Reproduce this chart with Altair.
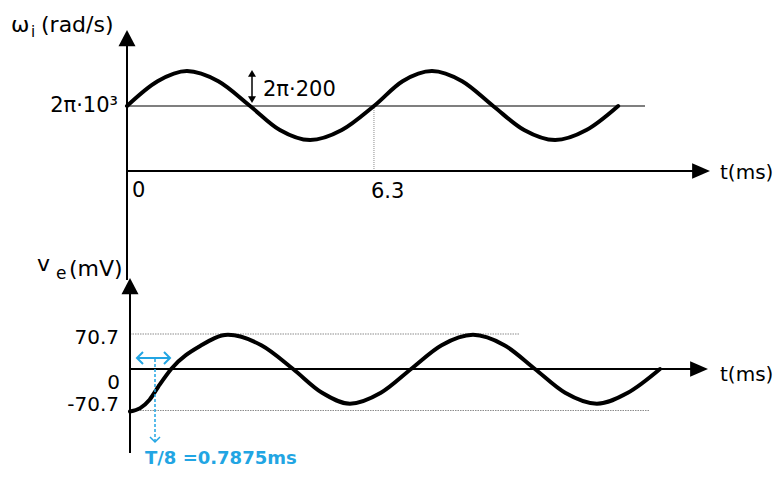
import altair as alt
import pandas as pd

# ---------------- data ----------------
# top panel: instantaneous angular frequency w_i (rad/s) vs t (ms)
t_top = [0, 0.78, 1.53, 2.33, 3.14, 3.9, 4.67, 5.48, 6.3, 7.03, 7.78, 8.55, 9.34, 10.13, 10.92, 11.72, 12.53]
w_top = [6283, 7172, 7540, 7172, 6283, 5420, 5060, 5420, 6283, 7172, 7540, 7172, 6283, 5420, 5060, 5420, 6283]

# bottom panel: v_e (mV) vs t (ms)
t_bot = [0, 0.26, 0.5, 0.72, 1.05, 1.8, 2.5, 3.35, 4.16, 4.9, 5.61, 6.4, 7.17, 7.95, 8.75, 9.55, 10.33, 11.1, 11.91, 12.7, 13.52]
v_bot = [-86, -79, -62, -36, 0, 47, 69, 48, 0, -48, -70, -48, 0, 48, 69, 48, 0, -48, -70, -48, 0]

w_center = 6283.19      # 2*pi*10^3 rad/s
w_dev = 1256.64         # 2*pi*200 rad/s
v_peak = 70.7           # mV
period_ms = 6.3

# ---------------- layout (page pixels -> scale domains) ----------------
FONT = "DejaVu Sans"
L, T, W, H = 8, 8, 767, 461
PXMS = 39.2
top_x0, top_c, top_a = 127, 106, 35
bot_x0, bot_z, bot_a = 130, 369, 35


def tx(px): return (px - top_x0) / PXMS
def ty(py): return w_center + (top_c - py) * w_dev / top_a
def bx(px): return (px - bot_x0) / PXMS
def by(py): return (bot_z - py) * v_peak / bot_a


XT = alt.Scale(domain=[tx(L), tx(L + W)], nice=False, zero=False)
YT = alt.Scale(domain=[ty(T + H), ty(T)], nice=False, zero=False)
XB = alt.Scale(domain=[bx(L), bx(L + W)], nice=False, zero=False)
YB = alt.Scale(domain=[by(T + H), by(T)], nice=False, zero=False)

w_axis = ty(171)


def enc(xs, ys, x2=False, y2=False):
    e = dict(x=alt.X("x:Q", scale=xs, axis=None), y=alt.Y("y:Q", scale=ys, axis=None))
    if x2:
        e["x2"] = alt.X2("x2:Q")
    if y2:
        e["y2"] = alt.Y2("y2:Q")
    return e


def rules(rows, xs, ys, **mk):
    df = pd.DataFrame(rows, columns=["x", "x2", "y", "y2"])
    return alt.Chart(df).mark_rule(**mk).encode(**enc(xs, ys, True, True))


def heads(rows, xs, ys, shape, size, **mk):
    df = pd.DataFrame(rows, columns=["x", "y"])
    return alt.Chart(df).mark_point(shape=shape, size=size, opacity=1, **mk).encode(**enc(xs, ys))


def texts(rows, xs, ys, **mk):
    df = pd.DataFrame(rows, columns=["x", "y", "label"])
    base = dict(font=FONT, color="black")
    base.update(mk)
    return alt.Chart(df).mark_text(**base).encode(text="label:N", **enc(xs, ys))


UP = "M0,0L-1,1.9L1,1.9Z"
RIGHT = "M0,0L-2.1,-0.9L-2.1,0.9Z"
SMALL_UP = "M0,0L-1,1.7L1,1.7Z"
SMALL_DOWN = "M0,0L-1,-1.7L1,-1.7Z"
OPEN_LEFT = "M1,-1L0,0L1,1"
OPEN_RIGHT = "M-1,-1L0,0L-1,1"
OPEN_DOWN = "M-1,-1L0,0L1,-1"
BLUE = "#22a5e3"

layers = []

# ---------- top panel ----------
layers.append(rules([[0, tx(645), w_center, w_center]], XT, YT, color="#7f7f7f", strokeWidth=2))
layers.append(rules([[period_ms, period_ms, w_center, w_axis]], XT, YT, color="#8c8c8c", strokeWidth=1, strokeDash=[1, 1]))
layers.append(rules([[0, tx(693), w_axis, w_axis], [0, 0, ty(280), ty(45)]], XT, YT, color="black", strokeWidth=2))
layers.append(alt.Chart(pd.DataFrame({"x": t_top, "y": w_top})).mark_line(
    color="black", strokeWidth=4, interpolate="monotone", strokeCap="round").encode(**enc(XT, YT)))
layers.append(heads([[0, ty(30)]], XT, YT, UP, 289, filled=True, color="black", strokeWidth=0))
layers.append(heads([[tx(710), w_axis]], XT, YT, RIGHT, 289, filled=True, color="black", strokeWidth=0))
# 2pi*200 double arrow
layers.append(rules([[tx(252), tx(252), ty(75), ty(98)]], XT, YT, color="black", strokeWidth=1.5))
layers.append(heads([[tx(252), ty(70)]], XT, YT, SMALL_UP, 64, filled=True, color="black", strokeWidth=0))
layers.append(heads([[tx(252), ty(103)]], XT, YT, SMALL_DOWN, 64, filled=True, color="black", strokeWidth=0))
# top texts
layers.append(texts([[tx(263), ty(96), "2π·200"]], XT, YT, align="left", baseline="alphabetic", fontSize=21))
layers.append(texts([[tx(118), ty(112), "2π·10³"]], XT, YT, align="right", baseline="alphabetic", fontSize=21))
layers.append(texts([[tx(132), ty(197), "0"], [tx(371), ty(198), "6.3"]],
                    XT, YT, align="left", baseline="alphabetic", fontSize=21))
layers.append(texts([[tx(720), ty(179), "t(ms)"]], XT, YT, align="left", baseline="alphabetic", fontSize=20))
layers.append(texts([[tx(11), ty(32), "ω"], [tx(41), ty(32), "(rad/s)"]],
                    XT, YT, align="left", baseline="alphabetic", fontSize=22))
layers.append(texts([[tx(31), ty(37), "i"]], XT, YT, align="left", baseline="alphabetic", fontSize=15))

# ---------- bottom panel ----------
layers.append(rules([[0, bx(520), v_peak, v_peak], [0, bx(650), by(410.5), by(410.5)]], XB, YB,
                    color="#8c8c8c", strokeWidth=1.2, strokeDash=[1.5, 1]))
layers.append(rules([[0, bx(691), 0, 0], [0, 0, by(453), by(292)]], XB, YB, color="black", strokeWidth=2))
layers.append(alt.Chart(pd.DataFrame({"x": t_bot, "y": v_bot})).mark_line(
    color="black", strokeWidth=4, interpolate="monotone", strokeCap="round").encode(**enc(XB, YB)))
layers.append(heads([[0, by(278)]], XB, YB, UP, 289, filled=True, color="black", strokeWidth=0))
layers.append(heads([[bx(708), 0]], XB, YB, RIGHT, 289, filled=True, color="black", strokeWidth=0))
# blue T/8 marker
layers.append(rules([[bx(137), bx(170), by(358), by(358)]], XB, YB, color=BLUE, strokeWidth=2))
layers.append(rules([[bx(155), bx(155), by(359), by(442)]], XB, YB, color=BLUE, strokeWidth=1.5, strokeDash=[3, 2]))
layers.append(heads([[bx(137), by(358)]], XB, YB, OPEN_LEFT, 144, filled=False, color=BLUE, strokeWidth=2))
layers.append(heads([[bx(170), by(358)]], XB, YB, OPEN_RIGHT, 144, filled=False, color=BLUE, strokeWidth=2))
layers.append(heads([[bx(155), by(442)]], XB, YB, OPEN_DOWN, 100, filled=False, color=BLUE, strokeWidth=1.5))
layers.append(texts([[bx(145), by(464), "T/8 =0.7875ms"]], XB, YB, align="left", baseline="alphabetic",
                    fontSize=18, fontWeight="bold", color=BLUE))
# bottom texts
layers.append(texts([[bx(119), by(344), "70.7"], [bx(120), by(389), "0"], [bx(119), by(411), "-70.7"]],
                    XB, YB, align="right", baseline="alphabetic", fontSize=20))
layers.append(texts([[bx(720), by(381), "t(ms)"]], XB, YB, align="left", baseline="alphabetic", fontSize=20))
layers.append(texts([[bx(37), by(271), "v"], [bx(69), by(276), "(mV)"]],
                    XB, YB, align="left", baseline="alphabetic", fontSize=22))
layers.append(texts([[bx(56), by(279), "e"]], XB, YB, align="left", baseline="alphabetic", fontSize=17))

chart = (
    alt.layer(*layers)
    .resolve_scale(x="independent", y="independent")
    .properties(width=W, height=H, padding=0, autosize="none", background="white")
    .configure_view(stroke=None)
)

chart.save("out.html", embed_options={"renderer": "svg", "actions": False})
